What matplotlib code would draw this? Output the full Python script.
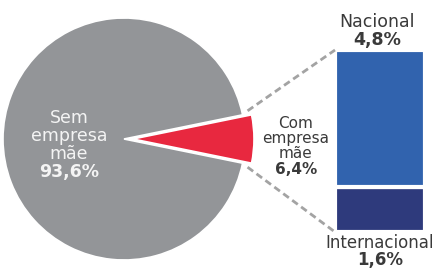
import numpy as np
import matplotlib
matplotlib.use('Agg')
import matplotlib.pyplot as plt

# dados
fatias = ['Com empresa mãe', 'Sem empresa mãe']
valores_pizza = [6.4, 93.6]
barras = ['Internacional', 'Nacional']
valores_barra = [1.6, 4.8]

cores_pizza = ['#E8283F', '#939598']
cores_barra = ['#2E3A7C', '#3163AE']
cinza_txt = '#3A3A3A'

H = 270
fig = plt.figure(figsize=(4.44, 2.70), dpi=100)
ax = fig.add_axes([0, 0, 1, 1])

# --- pizza ---
cx, cy, r = 124, H - 139, 121
desloc = 9  # afastamento da fatia vermelha, em px
ang0 = -valores_pizza[0] / sum(valores_pizza) * 360 / 2
wedges, _ = ax.pie(valores_pizza, colors=cores_pizza, startangle=ang0,
                   center=(cx, cy), radius=r, explode=[desloc, 0],
                   wedgeprops=dict(edgecolor='white', linewidth=1.2))

# --- barra empilhada ---
escala = 182 / sum(valores_barra)   # px por ponto percentual
bx, bw, base = 380, 90, H - 232
fundo = base
for nome, v, c in zip(barras, valores_barra, cores_barra):
    ax.bar(bx, v * escala, bottom=fundo, width=bw, color=c,
           edgecolor='white', linewidth=3)
    fundo += v * escala
topo = fundo

# linhas tracejadas
t = np.deg2rad(-ang0)
ex = cx + desloc
canto_sup = (ex + r * np.cos(t), cy + r * np.sin(t))
canto_inf = (ex + r * np.cos(t), cy - r * np.sin(t))
ax.plot([canto_sup[0] - 4, bx - bw / 2], [canto_sup[1] + 4, topo],
        ls='--', color='#A3A3A3', lw=2, dashes=(2.5, 1.5))
ax.plot([canto_inf[0] - 4, bx - bw / 2], [canto_inf[1] - 4, base],
        ls='--', color='#A3A3A3', lw=2, dashes=(2.5, 1.5))

# --- textos ---
def rotulo(x, y, linhas, pct, cor, tam, passo):
    for i, l in enumerate(linhas):
        ax.text(x, H - (y + i * passo), l, ha='center', va='center',
                fontsize=tam, color=cor)
    ax.text(x, H - (y + len(linhas) * passo), pct, ha='center', va='center',
            fontsize=tam, color=cor, fontweight='bold')

rotulo(69, 118, ['Sem', 'empresa', 'mãe'], '93,6%', '#F4F4F4', 12.5, 18)
rotulo(296, 123, ['Com', 'empresa', 'mãe'], '6,4%', cinza_txt, 11, 15.5)
rotulo(377, 22, ['Nacional'], '4,8%', cinza_txt, 12.5, 18)
rotulo(380, 243, ['Internacional'], '1,6%', cinza_txt, 12, 17)

ax.set_xlim(0, 444)
ax.set_ylim(0, H)
ax.set_aspect('equal')
ax.axis('off')

fig.savefig('out.png', dpi=100)
